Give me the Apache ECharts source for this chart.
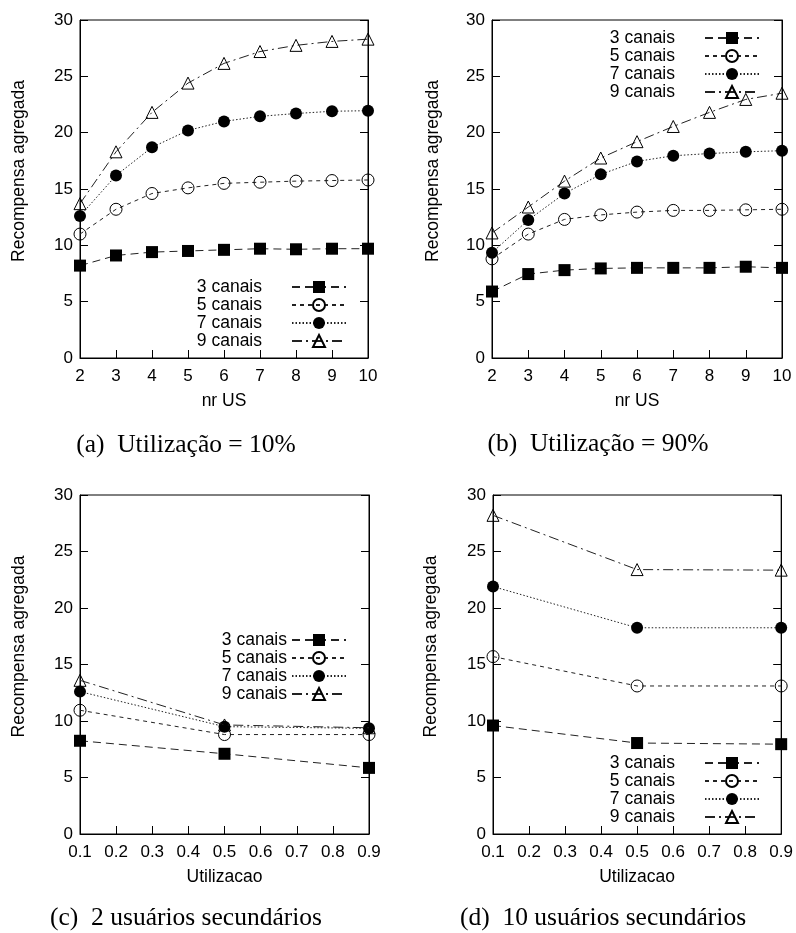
<!DOCTYPE html>
<html>
<head>
<meta charset="utf-8">
<script src="https://cdn.jsdelivr.net/npm/echarts@6/dist/echarts.min.js"></script>
<style>
  html, body { margin: 0; padding: 0; background: #fff; }
  #main { width: 796px; height: 933px; }
</style>
</head>
<body>
<div id="main"></div>
<script>
// --- data ---
var seriesNames = ['3 canais', '5 canais', '7 canais', '9 canais'];
var nrUS = [2, 3, 4, 5, 6, 7, 8, 9, 10];
var utilizacao = [0.1, 0.5, 0.9];
var yTicks = [0, 5, 10, 15, 20, 25, 30];

// (a) Utilização = 10%
var a3 = [8.2, 9.1, 9.4, 9.5, 9.6, 9.7, 9.65, 9.7, 9.7];
var a5 = [11.0, 13.2, 14.6, 15.1, 15.5, 15.6, 15.7, 15.75, 15.8];
var a7 = [12.6, 16.2, 18.7, 20.2, 21.0, 21.45, 21.7, 21.9, 21.95];
var a9 = [13.7, 18.3, 21.8, 24.4, 26.15, 27.2, 27.75, 28.1, 28.3];

// (b) Utilização = 90%
var b3 = [5.9, 7.45, 7.8, 7.95, 8.0, 8.0, 8.0, 8.1, 8.0];
var b5 = [8.8, 11.0, 12.3, 12.7, 12.95, 13.1, 13.1, 13.15, 13.2];
var b7 = [9.35, 12.25, 14.6, 16.3, 17.45, 17.95, 18.15, 18.3, 18.4];
var b9 = [11.1, 13.4, 15.7, 17.75, 19.2, 20.55, 21.8, 22.95, 23.5];

// (c) 2 usuários secundários
var c3 = [8.25, 7.1, 5.85];
var c5 = [10.95, 8.8, 8.8];
var c7 = [12.6, 9.5, 9.35];
var c9 = [13.6, 9.65, 9.4];

// (d) 10 usuários secundários
var d3 = [9.6, 8.05, 7.95];
var d5 = [15.7, 13.1, 13.1];
var d7 = [21.9, 18.25, 18.25];
var d9 = [28.2, 23.4, 23.35];

var captions = [
  '(a)  Utilização = 10%',
  '(b)  Utilização = 90%',
  '(c)  2 usuários secundários',
  '(d)  10 usuários secundários'
];

(function() {
  var sans = 'Liberation Sans, Arial, Helvetica, sans-serif';
  var serif = 'Liberation Serif, Times New Roman, serif';
  var ink = '#000';
  var lineInk = '#222';

  var styles = [
    { symbol: 'rect', size: 12, fill: ink, dash: [8, 5] },
    { symbol: 'circle', size: 12, fill: 'transparent', dash: [4, 4] },
    { symbol: 'circle', size: 12, fill: ink, dash: [1.5, 2] },
    { symbol: 'triangle', size: 12, fill: 'transparent', dash: [10, 4, 2, 4] }
  ];

  var panels = [
    { x: nrUS, data: [a3, a5, a7, a9], grid: { left: 80, top: 20, width: 288, height: 338 },
      xmin: 2, xmax: 10, xint: 1, xname: 'nr US', ygap: 52,
      legend: { right: 449, top: 278, lh: 17.7, pad: 25 },
      cap: { x: 186, y: 432 } },
    { x: nrUS, data: [b3, b5, b7, b9], grid: { left: 492, top: 20, width: 290, height: 338 },
      xmin: 2, xmax: 10, xint: 1, xname: 'nr US', ygap: 50,
      legend: { right: 36, top: 29, lh: 18, pad: 25 },
      cap: { x: 598, y: 431 } },
    { x: utilizacao, data: [c3, c5, c7, c9], grid: { left: 80, top: 495, width: 289, height: 339 },
      xmin: 0.1, xmax: 0.9, xint: 0.1, xname: 'Utilizacao', ygap: 52,
      legend: { right: 449, top: 631, lh: 17.4, pad: 0 },
      cap: { x: 186, y: 905 } },
    { x: utilizacao, data: [d3, d5, d7, d9], grid: { left: 493, top: 495, width: 289, height: 339 },
      xmin: 0.1, xmax: 0.9, xint: 0.1, xname: 'Utilizacao', ygap: 53,
      legend: { right: 36, top: 754, lh: 18, pad: 25 },
      cap: { x: 603, y: 905 } }
  ];

  var grids = [], xAxes = [], yAxes = [], series = [], legends = [], titles = [];

  panels.forEach(function(p, i) {
    grids.push({
      left: p.grid.left, top: p.grid.top, width: p.grid.width, height: p.grid.height,
      show: true, borderColor: ink, borderWidth: 1, backgroundColor: 'transparent'
    });

    xAxes.push({
      type: 'value', gridIndex: i, min: p.xmin, max: p.xmax, interval: p.xint,
      name: p.xname, nameLocation: 'middle', nameGap: 34,
      nameTextStyle: { color: ink, fontSize: 17.5, fontFamily: sans },
      axisLine: { show: true, lineStyle: { color: ink, width: 1 } },
      axisTick: { show: true, inside: true, length: 8, lineStyle: { color: ink } },
      axisLabel: { color: ink, fontSize: 17, fontFamily: sans, margin: 10 },
      splitLine: { show: false }
    });

    yAxes.push({
      type: 'value', gridIndex: i, min: yTicks[0], max: yTicks[yTicks.length - 1], interval: yTicks[1] - yTicks[0],
      position: 'left',
      name: 'Recompensa agregada', nameLocation: 'middle', nameGap: p.ygap, nameRotate: 90,
      nameTextStyle: { color: ink, fontSize: 17.5, fontFamily: sans, padding: [0, 0, 0, 36] },
      axisLine: { show: true, lineStyle: { color: ink, width: 1 } },
      axisTick: { show: true, inside: true, length: 8, lineStyle: { color: ink } },
      axisLabel: { color: ink, fontSize: 17, fontFamily: sans, margin: 7 },
      splitLine: { show: false }
    });
    // mirrored ticks on the right edge
    yAxes.push({
      type: 'value', gridIndex: i, min: yTicks[0], max: yTicks[yTicks.length - 1], interval: yTicks[1] - yTicks[0],
      position: 'right',
      axisLine: { show: true, lineStyle: { color: ink, width: 1 } },
      axisTick: { show: true, inside: true, length: 8, lineStyle: { color: ink } },
      axisLabel: { show: false },
      splitLine: { show: false }
    });

    p.data.forEach(function(vals, k) {
      var st = styles[k];
      series.push({
        name: seriesNames[k],
        type: 'line',
        xAxisIndex: i,
        yAxisIndex: i * 2,
        data: p.x.map(function(xv, j) { return [xv, vals[j]]; }),
        symbol: st.symbol,
        symbolSize: st.size,
        showAllSymbol: true,
        lineStyle: { color: lineInk, width: 1, type: st.dash },
        itemStyle: { color: st.fill, borderColor: ink, borderWidth: st.fill === 'transparent' ? 1 : 0 },
        z: 3 + k
      });
    });

    legends.push({
      orient: 'vertical',
      align: 'right',
      right: p.legend.right,
      top: p.legend.top,
      padding: 0,
      itemGap: 0,
      itemWidth: 54,
      itemHeight: 15,
      selectedMode: false,
      data: seriesNames,
      textStyle: {
        color: ink, fontSize: 17.5, fontFamily: sans,
        lineHeight: p.legend.lh,
        padding: [0, p.legend.pad, 0, 0]
      }
    });

    titles.push({
      text: captions[i],
      left: p.cap.x,
      top: p.cap.y,
      textAlign: 'center',
      padding: 0,
      textStyle: { color: ink, fontSize: 25.5, fontWeight: 'normal', fontFamily: serif }
    });
  });

  var chart = echarts.init(document.getElementById('main'), null, { renderer: 'canvas' });
  chart.setOption({
    animation: false,
    backgroundColor: '#fff',
    title: titles,
    legend: legends,
    grid: grids,
    xAxis: xAxes,
    yAxis: yAxes,
    series: series
  });
  window.addEventListener('resize', function() { chart.resize(); });
})();
</script>
</body>
</html>
